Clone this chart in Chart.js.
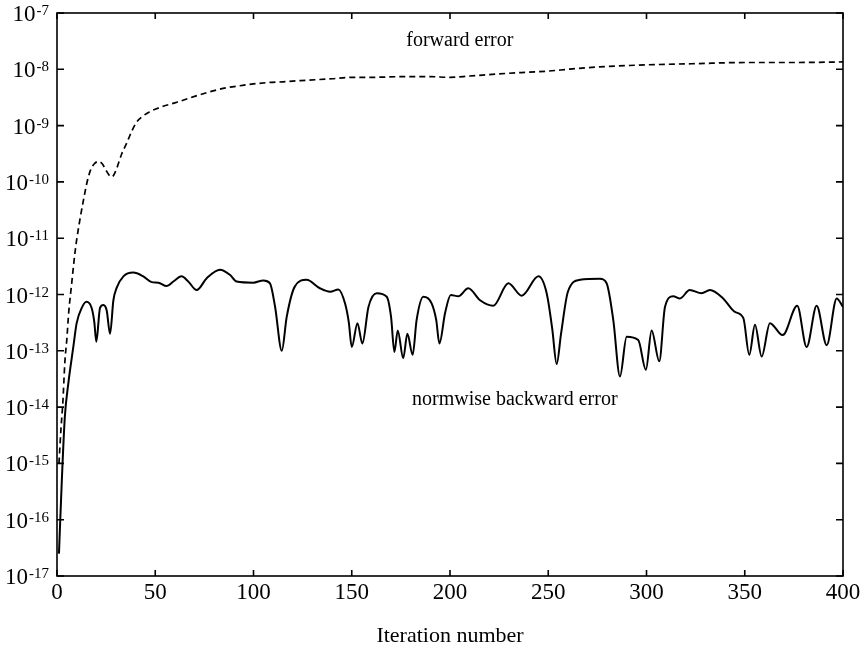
<!DOCTYPE html>
<html><head><meta charset="utf-8">
<script src="https://cdn.jsdelivr.net/npm/chart.js@4/dist/chart.umd.min.js"></script>
<style>html,body{margin:0;padding:0;background:#fff;}#wrap{width:865px;height:654px;}</style>
</head><body><div id="wrap"><canvas id="c" width="865" height="654"></canvas></div>
<script>
// ---- data ----
const fwdIter = [1,2,3,4,5,6,7.5,9,10,12,13.5,15,17,19,21,23,25,27,28,30,33,35.5,38,40.5,44,47,54,61,70,79,86,93,100,107,115,124,140,150,160,175,190,200,210,225,240,250,260,270,280,300,325,350,375,400];
const fwdErr = [1.0e-15,4.0e-15,1.26e-14,6.3e-14,1.6e-13,5.0e-13,1.6e-12,5.0e-12,9.3e-12,2.5e-11,4.8e-11,8.9e-11,1.6e-10,2.1e-10,2.3e-10,2.1e-10,1.6e-10,1.26e-10,1.23e-10,1.6e-10,3.2e-10,4.9e-10,7.9e-10,1.15e-9,1.5e-9,1.75e-9,2.2e-9,2.6e-9,3.3e-9,4.1e-9,4.7e-9,5.1e-9,5.5e-9,5.8e-9,6.0e-9,6.3e-9,6.8e-9,7.2e-9,7.2e-9,7.4e-9,7.4e-9,7.2e-9,7.6e-9,8.3e-9,8.9e-9,9.3e-9,1.0e-8,1.07e-8,1.12e-8,1.2e-8,1.26e-8,1.32e-8,1.32e-8,1.35e-8];

const bwdIter = [1,2.4,4,5.8,8.3,10,12.6,15,17.6,19,20,21.9,23.6,25.3,27,28.7,30.4,33.8,38.8,43.9,48.2,51.6,55.8,59.2,63.4,66.8,71.1,76.2,83,88,91.4,99.9,105,108.4,111,114.4,116.9,121,127,133.8,139,143.2,146.6,148.5,150,152.9,155.4,158.5,162.7,167.8,170,171.7,173.4,176.2,178.3,181,183,186.4,190.7,193,194.6,197.5,200.4,204.2,209.3,215.3,222,229.7,236.5,245,249.2,252,254.3,256.5,260,266.2,276.3,279.7,283.1,286.5,289.9,295.8,299.7,302.6,306.5,309.4,313.6,317,322,328,332.3,339,345,349.3,352.3,355.2,358.6,362.8,369.3,376.7,381.5,386.6,391.7,396.8,400];
const bwdErr = [2.5e-17,4.5e-16,6.8e-15,2.7e-14,1.17e-13,3.1e-13,5.8e-13,7.4e-13,5.8e-13,3.2e-13,1.45e-13,5.8e-13,6.5e-13,5.2e-13,2.0e-13,7.9e-13,1.32e-12,2.1e-12,2.45e-12,2.1e-12,1.66e-12,1.62e-12,1.41e-12,1.7e-12,2.1e-12,1.7e-12,1.2e-12,1.95e-12,2.75e-12,2.24e-12,1.7e-12,1.62e-12,1.78e-12,1.58e-12,6.0e-13,1.0e-13,4.0e-13,1.38e-12,1.82e-12,1.29e-12,1.12e-12,1.23e-12,6.9e-13,3.2e-13,1.17e-13,3.1e-13,1.35e-13,6.0e-13,1.05e-12,9.1e-13,4.0e-13,9.5e-14,2.3e-13,7.4e-14,2.0e-13,8.5e-14,3.5e-13,9.1e-13,6.9e-13,3.5e-13,1.35e-13,4.7e-13,9.8e-13,9.3e-13,1.29e-12,7.9e-13,6.3e-13,1.58e-12,9.5e-13,2.1e-12,1.05e-12,2.5e-13,5.8e-14,2.0e-13,1.12e-12,1.82e-12,1.9e-12,1.58e-12,3.5e-13,3.5e-14,1.78e-13,1.55e-13,4.6e-14,2.3e-13,6.5e-14,6.0e-13,9.3e-13,8.5e-13,1.2e-12,1.05e-12,1.2e-12,8.5e-13,4.9e-13,3.8e-13,8.5e-14,2.9e-13,7.9e-14,3.1e-13,1.9e-13,6.3e-13,1.17e-13,6.3e-13,1.26e-13,8.5e-13,6.0e-13];

const xTickValues = [0,50,100,150,200,250,300,350,400];
const yTickValues = [1e-7,1e-8,1e-9,1e-10,1e-11,1e-12,1e-13,1e-14,1e-15,1e-16,1e-17];
const yTickExps = ['-7','-8','-9','-10','-11','-12','-13','-14','-15','-16','-17'];
const xTitle = 'Iteration number';
const noteText = ['forward error','normwise backward error'];
const noteIter = [205, 233];
const noteVal = [3.2e-8, 1.35e-14];

// ---- drawing ----
const SERIF = '"Liberation Serif", "Times New Roman", serif';
const decor = {
  id: 'decor',
  afterDatasetsDraw(chart) {
    const {ctx, chartArea: a, scales: {x, y}} = chart;
    ctx.save();
    ctx.strokeStyle = '#000';
    ctx.lineWidth = 1.6;
    ctx.strokeRect(a.left, a.top, a.right - a.left, a.bottom - a.top);
    ctx.beginPath();
    xTickValues.forEach(v => {
      const px = x.getPixelForValue(v);
      ctx.moveTo(px, a.bottom); ctx.lineTo(px, a.bottom - 6);
      ctx.moveTo(px, a.top); ctx.lineTo(px, a.top + 6);
    });
    yTickValues.forEach(v => {
      const py = y.getPixelForValue(v);
      ctx.moveTo(a.left, py); ctx.lineTo(a.left + 7, py);
      ctx.moveTo(a.right, py); ctx.lineTo(a.right - 7, py);
    });
    ctx.stroke();
    ctx.fillStyle = '#000';
    ctx.textBaseline = 'alphabetic';
    ctx.textAlign = 'left';
    const baseFont = '23px ' + SERIF, supFont = '15px ' + SERIF;
    yTickValues.forEach((v, i) => {
      const py = y.getPixelForValue(v);
      const e = yTickExps[i];
      ctx.font = supFont; const ew = ctx.measureText(e).width;
      ctx.font = baseFont; const bw = ctx.measureText('10').width;
      const right = a.left - 8;
      ctx.fillText('10', right - ew - bw - 1, py + 8);
      ctx.font = supFont;
      ctx.fillText(e, right - ew, py + 2);
    });
    ctx.font = '20px ' + SERIF;
    ctx.textAlign = 'center';
    ctx.textBaseline = 'middle';
    noteText.forEach((t, i) => {
      ctx.fillText(t, x.getPixelForValue(noteIter[i]), y.getPixelForValue(noteVal[i]));
    });
    ctx.restore();
  }
};

new Chart(document.getElementById('c'), {
  type: 'line',
  data: {
    datasets: [
      {
        label: 'forward error',
        data: fwdIter.map((v, i) => ({x: v, y: fwdErr[i]})),
        borderColor: '#000', borderWidth: 1.7, borderDash: [6, 4],
        pointRadius: 0, cubicInterpolationMode: 'monotone', fill: false
      },
      {
        label: 'normwise backward error',
        data: bwdIter.map((v, i) => ({x: v, y: bwdErr[i]})),
        borderColor: '#000', borderWidth: 2,
        pointRadius: 0, cubicInterpolationMode: 'monotone', fill: false
      }
    ]
  },
  options: {
    responsive: false, animation: false, devicePixelRatio: 1,
    layout: {padding: {top: 13, right: 22, left: 0, bottom: 0}},
    plugins: {legend: {display: false}, tooltip: {enabled: false}},
    scales: {
      x: {
        type: 'linear', min: 0, max: 400,
        afterBuildTicks: s => { s.ticks = xTickValues.map(v => ({value: v})); },
        ticks: {color: '#000', font: {family: SERIF, size: 23}, padding: 3, maxRotation: 0},
        grid: {display: false, drawTicks: false},
        border: {display: false},
        title: {display: true, text: xTitle, color: '#000', font: {family: SERIF, size: 22}, padding: {top: 0, bottom: 5}},
        afterFit: s => { s.height = 78; }
      },
      y: {
        type: 'logarithmic', min: 1e-17, max: 1e-7,
        ticks: {display: false},
        grid: {display: false, drawTicks: false},
        border: {display: false},
        afterFit: s => { s.width = 57; }
      }
    }
  },
  plugins: [decor]
});
</script>
</body></html>
